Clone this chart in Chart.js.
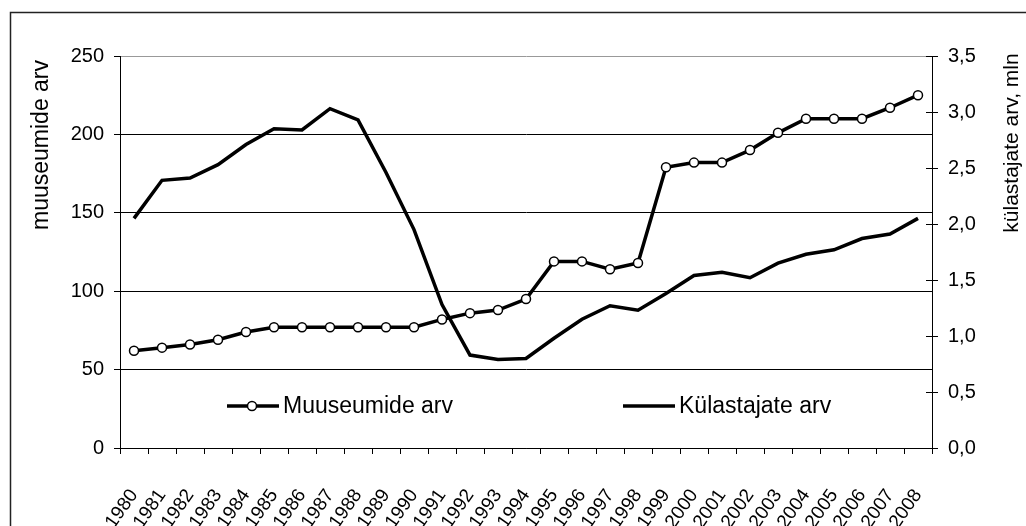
<!DOCTYPE html>
<html>
<head>
<meta charset="utf-8">
<script src="https://cdn.jsdelivr.net/npm/chart.js@4"></script>
<style>
  html, body { margin: 0; padding: 0; background: #fff; overflow: hidden; }
  #wrap { width: 1026px; height: 526px; }
</style>
</head>
<body>
<div id="wrap"><canvas id="chart" width="1026" height="526"></canvas></div>
<script>
const years = ["1980", "1981", "1982", "1983", "1984", "1985", "1986", "1987", "1988", "1989",
    "1990", "1991", "1992", "1993", "1994", "1995", "1996", "1997", "1998", "1999",
    "2000", "2001", "2002", "2003", "2004", "2005", "2006", "2007", "2008"];

// muuseumide arv (vasak telg)
const museums = [62, 64, 66, 69, 74, 77, 77, 77, 77, 77,
    77, 82, 86, 88, 95, 119, 119, 114, 118, 179,
    182, 182, 190, 201, 210, 210, 210, 217, 225];

// külastajate arv, mln (parem telg)
const visitors = [2.05, 2.39, 2.41, 2.53, 2.71, 2.85, 2.84, 3.03, 2.93, 2.46,
    1.95, 1.28, 0.83, 0.79, 0.80, 0.98, 1.15, 1.27, 1.23, 1.38,
    1.54, 1.57, 1.52, 1.65, 1.73, 1.77, 1.87, 1.91, 2.05];

const seriesNames = ["Muuseumide arv", "Külastajate arv"];
const leftTitle = "muuseumide arv";
const rightTitle = "külastajate arv, mln";

const FONT = "'Liberation Sans', Arial, sans-serif";

// frame, axis titles, legend and the inner half of the right ticks
const decor = {
    id: "decor",
    beforeDraw(chart) {
        const c = chart.ctx;
        c.save();
        c.fillStyle = "#fff";
        c.fillRect(0, 0, chart.width, chart.height);
        c.strokeStyle = "#222";
        c.lineWidth = 1.5;
        c.strokeRect(10.5, 12.5, 1200, 700);
        c.restore();
    },
    afterDraw(chart) {
        const c = chart.ctx;
        const area = chart.chartArea;
        c.save();
        c.fillStyle = "#000";

        // axis titles
        c.textAlign = "center";
        c.textBaseline = "middle";
        c.font = "23px " + FONT;
        c.translate(42, 145);
        c.rotate(-Math.PI / 2);
        c.fillText(leftTitle, 0, 0);
        c.setTransform(1, 0, 0, 1, 0, 0);
        c.font = "21px " + FONT;
        c.translate(1012, 143);
        c.rotate(-Math.PI / 2);
        c.fillText(rightTitle, 0, 0);
        c.setTransform(1, 0, 0, 1, 0, 0);

        // right axis ticks also reach into the plot
        const r = chart.scales.y1;
        c.strokeStyle = "#000";
        c.lineWidth = 1;
        r.ticks.forEach(t => {
            const y = Math.round(r.getPixelForValue(t.value)) + 0.5;
            c.beginPath();
            c.moveTo(area.right - 6, y);
            c.lineTo(area.right, y);
            c.stroke();
        });

        // legend inside the plot
        const ly = 406;
        const items = [
            { x: 227, ds: chart.data.datasets[0] },
            { x: 623, ds: chart.data.datasets[1] }
        ];
        c.font = "23px " + FONT;
        c.textAlign = "left";
        items.forEach(it => {
            c.strokeStyle = it.ds.borderColor;
            c.lineWidth = it.ds.borderWidth;
            c.beginPath();
            c.moveTo(it.x, ly);
            c.lineTo(it.x + 52, ly);
            c.stroke();
            if (it.ds.pointRadius > 0) {
                c.beginPath();
                c.arc(it.x + 25, ly, it.ds.pointRadius, 0, Math.PI * 2);
                c.fillStyle = it.ds.pointBackgroundColor;
                c.fill();
                c.lineWidth = it.ds.pointBorderWidth;
                c.strokeStyle = it.ds.pointBorderColor;
                c.stroke();
            }
            c.fillStyle = "#000";
            c.fillText(it.ds.label, it.x + 56, ly + 1);
        });
        c.restore();
    }
};

const ctx = document.getElementById("chart").getContext("2d");
const chart = new Chart(ctx, {
    type: "line",
    data: {
        labels: years,
        datasets: [{
            label: seriesNames[0],
            data: museums,
            yAxisID: "y",
            borderColor: "#000",
            borderWidth: 3.5,
            pointRadius: 4.5,
            pointBackgroundColor: "#fff",
            pointBorderColor: "#000",
            pointBorderWidth: 1.5,
            tension: 0
        }, {
            label: seriesNames[1],
            data: visitors,
            yAxisID: "y1",
            borderColor: "#000",
            borderWidth: 3.5,
            pointRadius: 0,
            tension: 0
        }]
    },
    options: {
        responsive: false,
        animation: false,
        devicePixelRatio: 1,
        layout: { padding: { top: 56, left: 0, right: 0, bottom: 0 } },
        plugins: {
            legend: { display: false },
            tooltip: { enabled: false }
        },
        scales: {
            x: {
                offset: true,
                grid: { offset: true, drawOnChartArea: false, tickLength: 6, color: "#000" },
                border: { color: "#000", width: 1 },
                ticks: {
                    autoSkip: false,
                    minRotation: 55, maxRotation: 55, padding: 31,
                    color: "#000", font: { family: FONT, size: 19 }
                },
                afterFit(s) { s.height = 78; }
            },
            y: {
                position: "left",
                min: 0, max: 250,
                ticks: { stepSize: 50, padding: 10, color: "#000", font: { family: FONT, size: 20 } },
                grid: {
                    color: c => (c.tick && c.tick.value === 250) ? "#999" : "#000",
                    tickColor: "#000",
                    tickLength: 6
                },
                border: { color: "#000", width: 1 },
                afterFit(s) { s.width = 120; }
            },
            y1: {
                position: "right",
                min: 0, max: 3.5,
                ticks: {
                    stepSize: 0.5, padding: 10, color: "#000",
                    font: { family: FONT, size: 20 },
                    callback: v => v.toFixed(1).replace(".", ",")
                },
                grid: { drawOnChartArea: false, color: "#000", tickLength: 6 },
                border: { color: "#000", width: 1 },
                afterFit(s) { s.width = 94; }
            }
        }
    },
    plugins: [decor]
});
</script>
</body>
</html>
